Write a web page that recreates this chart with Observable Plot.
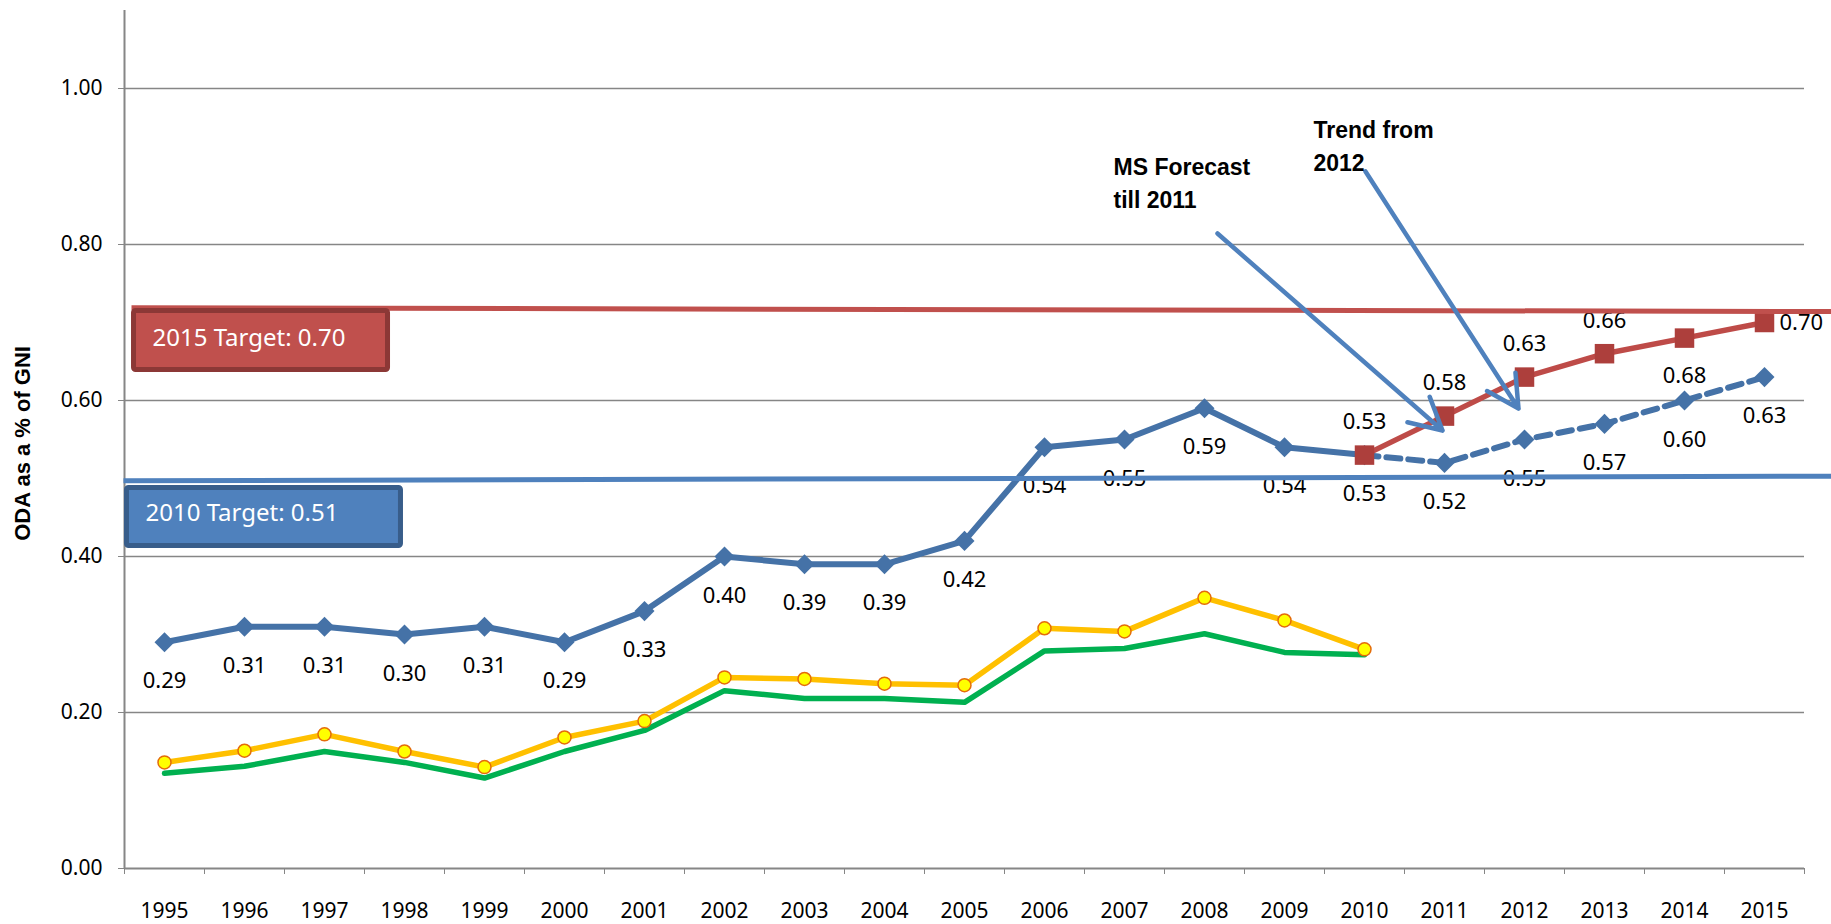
<!DOCTYPE html>
<html>
<head>
<meta charset="utf-8">
<script src="https://cdn.jsdelivr.net/npm/d3@7"></script>
<script src="https://cdn.jsdelivr.net/npm/@observablehq/plot@0.6"></script>
<style>
  html, body { margin: 0; padding: 0; background: #fff; }
  #chart svg { display: block; }
</style>
</head>
<body>
<div id="chart"></div>
<script>
// ---- data ----
const years = [1995,1996,1997,1998,1999,2000,2001,2002,2003,2004,2005,2006,2007,2008,2009,2010,2011,2012,2013,2014,2015];
const histYears = [1995,1996,1997,1998,1999,2000,2001,2002,2003,2004,2005,2006,2007,2008,2009,2010];
const euOda     = [0.29,0.31,0.31,0.30,0.31,0.29,0.33,0.40,0.39,0.39,0.42,0.54,0.55,0.59,0.54,0.53];
const yellowOda = [0.136,0.151,0.172,0.150,0.130,0.168,0.189,0.245,0.243,0.237,0.235,0.308,0.304,0.347,0.318,0.281];
const greenOda  = [0.122,0.131,0.150,0.136,0.116,0.150,0.177,0.228,0.218,0.218,0.213,0.279,0.282,0.301,0.277,0.274];
const projYears   = [2010,2011,2012,2013,2014,2015];
const trendOda    = [0.53,0.52,0.55,0.57,0.60,0.63];
const forecastOda = [0.53,0.58,0.63,0.66,0.68,0.70];
const yTicks = [0, 0.2, 0.4, 0.6, 0.8, 1.0];
const target2015Line = [0.719, 0.714];
const target2010Line = [0.497, 0.503];
const boxTexts = ["2015 Target: 0.70", "2010 Target: 0.51"];
const noteTexts = ["MS Forecast\ntill 2011", "Trend from\n2012"];
const yTitle = "ODA as a % of GNI";

// ---- tables ----
const hist = histYears.map((year, i) => ({year, eu: euOda[i], yellow: yellowOda[i], green: greenOda[i]}));
const trend = projYears.map((year, i) => ({year, v: trendOda[i]}));
const forecast = projYears.map((year, i) => ({year, v: forecastOda[i]}));
const blueLabels = hist.map(d => ({year: d.year, v: d.eu})).concat(trend.slice(1));

const BLUE = "#4572A7", RED = "#BE4B48", REDMARK = "#AD3F3C";
const GRID = "#868686";
const diamond = {
  draw(context, size) {
    const r = Math.sqrt(size / 2);
    context.moveTo(0, -r); context.lineTo(r, 0); context.lineTo(0, r); context.lineTo(-r, 0); context.closePath();
  }
};
const k = v => () => v;
const BOLD = "'Liberation Sans', Arial, sans-serif";

const chart = Plot.plot({
  width: 1831, height: 924,
  marginLeft: 124, marginRight: 27, marginTop: 10, marginBottom: 56,
  x: {domain: [1994.5, 2015.5]},
  y: {domain: [0, 1.1]},
  style: {fontFamily: "'Noto Sans', sans-serif", fontSize: "21px", color: "#000", background: "#fff"},
  marks: [
    Plot.ruleY(yTicks.slice(1), {stroke: GRID, strokeWidth: 1.6}),
    Plot.axisY({ticks: yTicks, tickFormat: d => d.toFixed(2), tickSize: 6, tickPadding: 16, stroke: GRID, fill: "#000", label: null, fontSize: 21}),
    Plot.axisX({ticks: years, tickSize: 0, tickPadding: 35, tickFormat: d => String(d), fill: "#000", label: null, fontSize: 21}),
    Plot.axisX({ticks: d3.range(1994.5, 2016, 1), tickSize: 6, tickFormat: () => "", stroke: GRID, label: null}),
    Plot.ruleX([1994.5], {y1: 0, y2: 1.1, stroke: GRID, strokeWidth: 2}),
    Plot.ruleY([0], {stroke: GRID, strokeWidth: 2}),

    Plot.line(hist, {x: "year", y: "green", stroke: "#00B050", strokeWidth: 5.5}),
    Plot.line(hist, {x: "year", y: "yellow", stroke: "#FFC000", strokeWidth: 5.5}),
    Plot.dot(hist, {x: "year", y: "yellow", r: 6.5, fill: "#FFFF00", stroke: "#E46C0A", strokeWidth: 1.5}),
    Plot.line(hist, {x: "year", y: "eu", stroke: BLUE, strokeWidth: 6}),
    Plot.line(trend, {x: "year", y: "v", stroke: BLUE, strokeWidth: 6, strokeDasharray: "14,8"}),
    Plot.dot(hist, {x: "year", y: "eu", symbol: diamond, r: 8, fill: BLUE}),
    Plot.dot(trend.slice(1), {x: "year", y: "v", symbol: diamond, r: 8, fill: BLUE}),
    Plot.line(forecast, {x: "year", y: "v", stroke: RED, strokeWidth: 5.5}),
    Plot.dot(forecast, {x: "year", y: "v", symbol: "square", r: 11, fill: REDMARK}),

    Plot.text(blueLabels, {x: "year", y: "v", text: d => d.v.toFixed(2), dy: 39, fill: "#000", fontSize: 22}),
    Plot.text(forecast.filter((d, i) => i < 4), {x: "year", y: "v", text: d => d.v.toFixed(2), dy: -33, fill: "#000", fontSize: 22}),
    Plot.text(forecast.filter((d, i) => i === 4), {x: "year", y: "v", text: d => d.v.toFixed(2), dy: 38, fill: "#000", fontSize: 22}),
    Plot.text(forecast.filter((d, i) => i === 5), {x: "year", y: "v", text: d => d.v.toFixed(2), dx: 15, textAnchor: "start", fill: "#000", fontSize: 22}),

    // target lines
    Plot.link([0], {x1: k(1994.5875), x2: k(2015.8375), y1: k(target2015Line[0]), y2: k(target2015Line[1]), stroke: "#C0504D", strokeWidth: 5}),
    Plot.link([0], {x1: k(1994.4875), x2: k(2015.8375), y1: k(target2010Line[0]), y2: k(target2010Line[1]), stroke: "#4F81BD", strokeWidth: 5}),

    // target boxes
    Plot.rect([0], {x1: k(1994.619), x2: k(1997.794), y1: k(0.6391), y2: k(0.7147), fill: "#C0504D", stroke: "#8C3836", strokeWidth: 5, rx: 2}),
    Plot.rect([0], {x1: k(1994.531), x2: k(1997.956), y1: k(0.4135), y2: k(0.4878), fill: "#4F81BD", stroke: "#385D8A", strokeWidth: 5, rx: 2}),
    Plot.text([boxTexts[0]], {x: k(1994.85), y: k(0.6795), text: d => d, textAnchor: "start", fill: "#fff", fontSize: 24}),
    Plot.text([boxTexts[1]], {x: k(1994.7625), y: k(0.4551), text: d => d, textAnchor: "start", fill: "#fff", fontSize: 24}),

    // arrows
    Plot.arrow([0], {x1: k(2008.1625), y1: k(0.8141), x2: k(2010.975), y2: k(0.5615), stroke: "#4F81BD", strokeWidth: 4.5, headLength: 12, headAngle: 56}),
    Plot.arrow([0], {x1: k(2010.0125), y1: k(0.8936), x2: k(2011.925), y2: k(0.5897), stroke: "#4F81BD", strokeWidth: 4.5, headLength: 12, headAngle: 56}),

    // annotation notes
    Plot.text([noteTexts[0]], {x: k(2006.8625), y: k(0.918), text: d => d, textAnchor: "start", lineAnchor: "top", lineHeight: 1.4, fill: "#000", fontSize: 23, fontWeight: "bold", fontFamily: BOLD}),
    Plot.text([noteTexts[1]], {x: k(2009.3625), y: k(0.9654), text: d => d, textAnchor: "start", lineAnchor: "top", lineHeight: 1.4, fill: "#000", fontSize: 23, fontWeight: "bold", fontFamily: BOLD}),

    // y axis title
    Plot.text([yTitle], {x: k(1993.225), y: k(0.545), text: d => d, rotate: -90, textAnchor: "middle", lineAnchor: "middle", fill: "#000", fontSize: 22, fontWeight: "bold", fontFamily: BOLD})
  ]
});
document.getElementById("chart").appendChild(chart);
</script>
</body>
</html>
